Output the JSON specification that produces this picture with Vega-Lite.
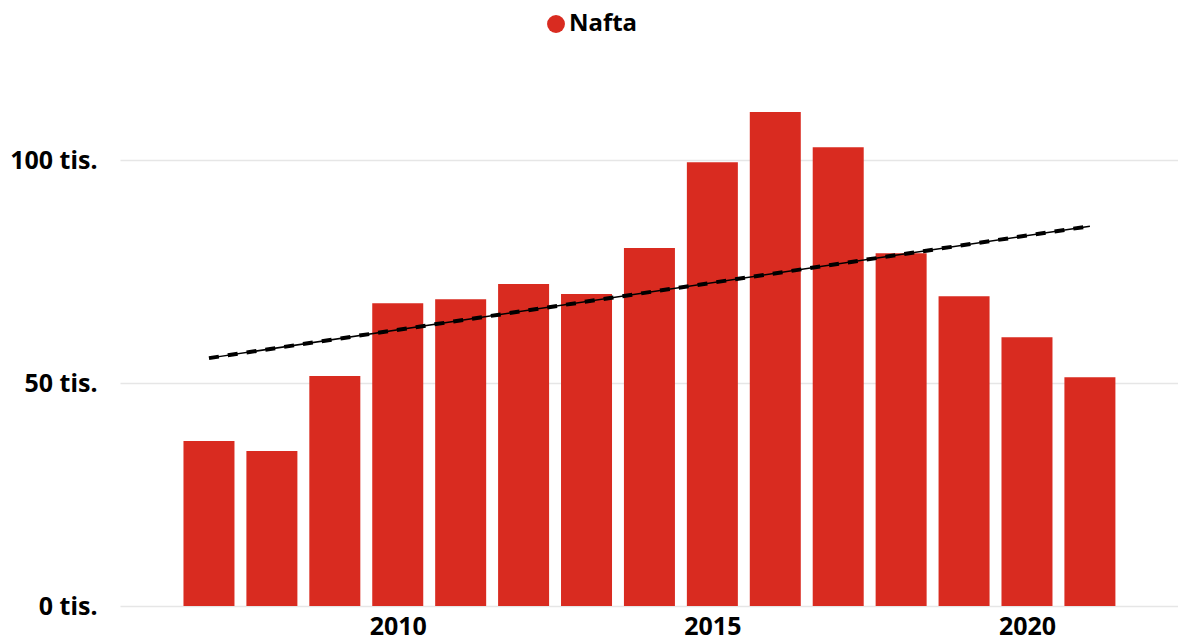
{
  "$schema": "https://vega.github.io/schema/vega-lite/v6.json",
  "width": 1058,
  "height": 535,
  "autosize": {"type": "none"},
  "padding": {"left": 120, "top": 71, "right": 0, "bottom": 37},
  "background": "white",
  "config": {
    "view": {"stroke": null},
    "font": "Noto Sans",
    "axis": {"labelFont": "Noto Sans", "labelFontWeight": "bold", "labelFontSize": 25, "labelColor": "#000000"}
  },
  "datasets": {
    "bars": [
      {"year": 2007, "value": 37000, "series": "Nafta"},
      {"year": 2008, "value": 34750, "series": "Nafta"},
      {"year": 2009, "value": 51600, "series": "Nafta"},
      {"year": 2010, "value": 67900, "series": "Nafta"},
      {"year": 2011, "value": 68800, "series": "Nafta"},
      {"year": 2012, "value": 72200, "series": "Nafta"},
      {"year": 2013, "value": 70000, "series": "Nafta"},
      {"year": 2014, "value": 80300, "series": "Nafta"},
      {"year": 2015, "value": 99550, "series": "Nafta"},
      {"year": 2016, "value": 110800, "series": "Nafta"},
      {"year": 2017, "value": 102900, "series": "Nafta"},
      {"year": 2018, "value": 79100, "series": "Nafta"},
      {"year": 2019, "value": 69500, "series": "Nafta"},
      {"year": 2020, "value": 60300, "series": "Nafta"},
      {"year": 2021, "value": 51300, "series": "Nafta"}
    ],
    "trend": [
      {"year": 2007, "value": 55600},
      {"year": 2021, "value": 85200}
    ]
  },
  "layer": [
    {
      "data": {"name": "bars"},
      "mark": {"type": "bar", "width": 51, "color": "#d92b20"},
      "encoding": {
        "x": {
          "field": "year", "type": "quantitative",
          "scale": {"domain": [2005.586, 2022.4], "nice": false, "zero": false, "padding": 0},
          "axis": {"values": [2010, 2015, 2020], "format": "d", "title": null, "grid": false, "domain": false, "ticks": false, "labelPadding": 8}
        },
        "y": {
          "field": "value", "type": "quantitative",
          "scale": {"domain": [0, 120000], "nice": false},
          "axis": {"values": [0, 50000, 100000], "labelExpr": "(datum.value/1000) + ' tis.'", "title": null, "grid": true, "gridColor": "#e6e6e6", "gridWidth": 1.5, "domain": false, "ticks": false, "labelPadding": 23}
        },
        "color": {
          "field": "series", "type": "nominal",
          "scale": {"range": ["#d92b20"]},
          "legend": {
            "orient": "none", "legendX": 424, "legendY": -59, "direction": "horizontal",
            "title": null, "symbolType": "circle", "symbolSize": 320, "symbolStrokeWidth": 0,
            "labelFont": "Noto Sans", "labelFontWeight": "bold", "labelFontSize": 24, "labelColor": "#000000", "labelOffset": 1
          }
        }
      }
    },
    {
      "data": {"name": "trend"},
      "mark": {"type": "line", "color": "#000000", "strokeWidth": 1.5},
      "encoding": {
        "x": {"field": "year", "type": "quantitative"},
        "y": {"field": "value", "type": "quantitative"}
      }
    },
    {
      "data": {"name": "trend"},
      "mark": {"type": "line", "color": "#000000", "strokeWidth": 4, "strokeDash": [10, 9]},
      "encoding": {
        "x": {"field": "year", "type": "quantitative"},
        "y": {"field": "value", "type": "quantitative"}
      }
    }
  ]
}
